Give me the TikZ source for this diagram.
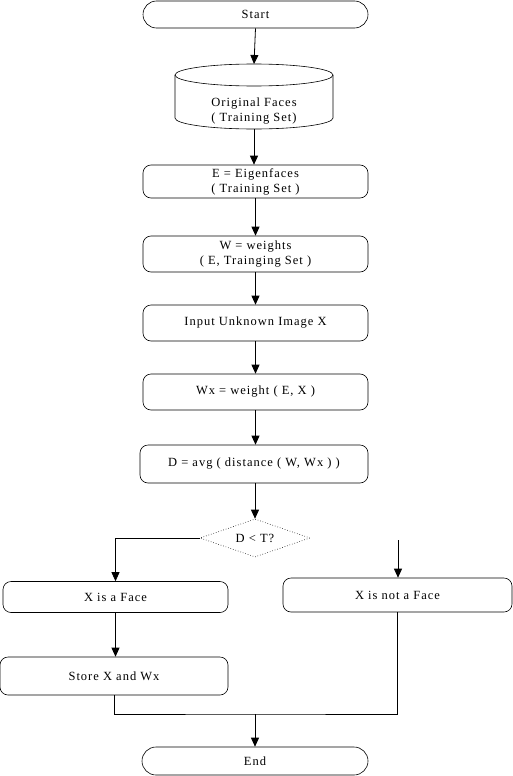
\documentclass[tikz,border=0pt]{standalone}
\usepackage{fontspec}
\setmainfont{Liberation Serif}[LetterSpace=8]
\usetikzlibrary{arrows.meta,shapes.geometric}
\begin{document}
\begin{tikzpicture}[x=1pt,y=-1pt,
  every node/.style={font=\fontsize{12.5}{15}\selectfont, align=center, inner sep=0pt},
  procbox/.style={draw, line width=0.6pt, rounded corners=8pt, minimum width=225pt, minimum height=34pt},
  termbox/.style={draw, line width=0.6pt, rounded corners=13.5pt, minimum width=225pt, minimum height=27pt},
  decbox/.style={diamond, draw, dotted, line width=0.6pt, minimum width=110pt, minimum height=38pt},
  conn/.style={line width=0.8pt},
  arr/.style={conn, -{Triangle[width=8pt,length=9pt]}}]
\useasboundingbox (0,0) rectangle (512,776);

\node[termbox] (start) at (255.5,14.5) {Start};

% database cylinder
\node[minimum width=158pt, minimum height=66pt] (db) at (254,97) {};
\draw[line width=0.6pt] (254,75) ellipse [x radius=79, y radius=11];
\draw[line width=0.6pt] (175,75) -- (175,118) arc[start angle=180, end angle=360, x radius=79, y radius=-11] -- (333,75);
\node at (254,111.5) {Original Faces\\( Training Set)};

\node[procbox, minimum height=33pt] (eig) at (255.5,181.5) {E = Eigenfaces\\( Training Set )};
\node[procbox, minimum height=36pt] (wgt) at (255.5,254) {W = weights\\( E, Trainging Set )};
\node[procbox, minimum height=36pt] (inp) at (255.5,323) {Input Unknown Image X};
\node[procbox, minimum height=36pt] (wx) at (255.5,392) {Wx = weight ( E, X )};
\node[procbox, minimum width=228pt, minimum height=38pt] (dist) at (254,464) {D = avg ( distance ( W, Wx ) )};
\node[decbox] (dec) at (255,538) {};
\node at (255,538) {D < T?};
\node[procbox, minimum height=31pt] (face) at (115.5,597) {X is a Face};
\node[procbox, minimum width=229pt, minimum height=34pt] (nface) at (397.5,595) {X is not a Face};
\node[procbox, minimum width=228pt, minimum height=38pt] (store) at (114,676) {Store X and Wx};
\node[termbox, minimum width=226pt, minimum height=28pt, rounded corners=14pt] (end) at (255,761) {End};

\coordinate (nin) at (398,540);
\coordinate (j) at (255,714);

\draw[arr] (start.south) -- (254,64);
\draw[arr] (254,129) -- (eig.north -| 254,0);
\draw[arr] (eig) -- (wgt);
\draw[arr] (wgt) -- (inp);
\draw[arr] (inp) -- (wx);
\draw[arr] (wx.south) -- (dist.north -| wx.south);
\draw[arr] (dist.south -| dec.north) -- (dec.north);
\draw[arr] (dec.west) -| (face.north);
\draw[arr] (nin) -- (nin |- nface.north);
\draw[arr] (face.south) -- (face.south |- store.north);
\draw[conn] (store.south) |- (j) -| (nface.south);
\draw[arr] (j) -- (end.north);
\end{tikzpicture}
\end{document}
